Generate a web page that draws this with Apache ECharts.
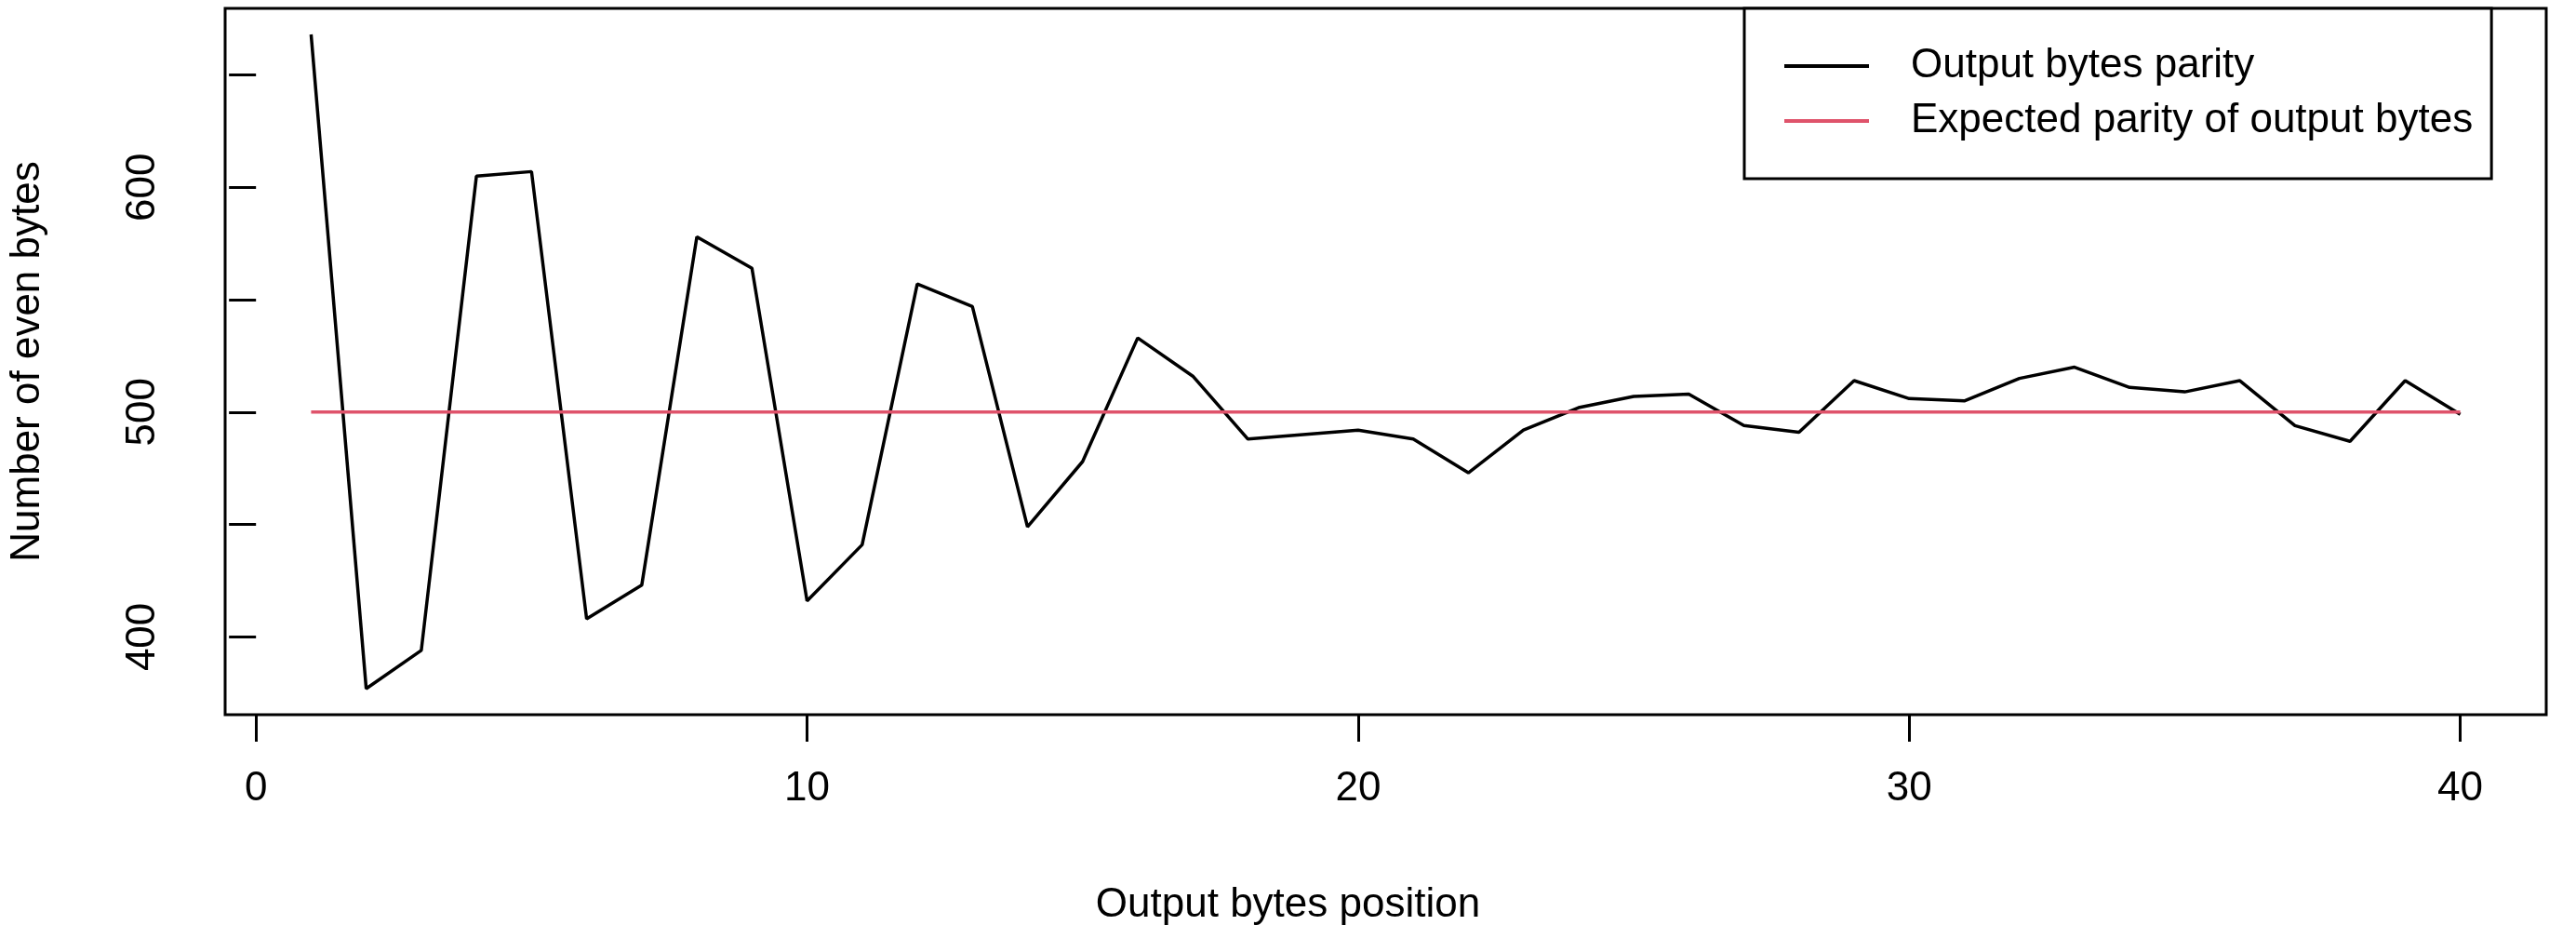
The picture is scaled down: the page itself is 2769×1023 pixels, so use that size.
<!DOCTYPE html>
<html><head><meta charset="utf-8">
<script src="https://cdn.jsdelivr.net/npm/echarts@6/dist/echarts.min.js"></script>
<style>html,body{margin:0;padding:0;background:#fff}#c{width:2769px;height:1023px}</style>
</head><body><div id="c"></div>
<script>
const positions = Array.from({length:40},(_,i)=>i+1);
const parity = [668,377,394,605,607,408,423,578,564,416,441,557,547,449,478,533,516,488,490,492,488,473,492,502,507,508,494,491,514,506,505,515,520,511,509,514,494,487,514,499];
const expected = positions.map(()=>500);
const xTicks = [0,10,20,30,40];
const yTicks = [400,450,500,550,600,650];
const yLabels = [400,500,600];
const F = 'Liberation Sans, Arial, sans-serif';
const chart = echarts.init(document.getElementById('c'));
chart.setOption({
  animation:false,
  backgroundColor:'#fff',
  textStyle:{fontFamily:F},
  grid:{left:235,right:32,top:9,bottom:255,show:true,borderColor:'#000',borderWidth:3,backgroundColor:'transparent'},
  xAxis:{type:'value',min:-0.56,max:41.56,
     axisLine:{show:false},
     axisTick:{show:true,customValues:xTicks,length:29,lineStyle:{color:'#000',width:3}},
     axisLabel:{show:true,customValues:xTicks,margin:58,color:'#000',fontSize:44,fontFamily:F},
     splitLine:{show:false}},
  yAxis:{type:'value',min:365.4,max:679.6,
     name:'Number of even bytes',nameLocation:'middle',nameRotate:90,nameGap:190,
     nameTextStyle:{fontSize:44,color:'#000',fontFamily:F},
     axisLine:{show:false},
     axisTick:{show:true,customValues:yTicks,length:29,lineStyle:{color:'#000',width:3}},
     axisLabel:{show:true,customValues:yLabels,margin:66,rotate:90,color:'#000',fontSize:44,fontFamily:F,align:'center',verticalAlign:'bottom'},
     splitLine:{show:false}},
  title:{text:'Output bytes position',left:'center',top:946,textStyle:{fontSize:44,fontWeight:'normal',color:'#000',fontFamily:F}},
  legend:{left:1875,top:9,orient:'vertical',itemWidth:91,itemHeight:4,itemGap:15,
    padding:[40,20,40,43],borderColor:'#000',borderWidth:3,backgroundColor:'#fff',
    textStyle:{fontSize:44,color:'#000',fontFamily:F,padding:[0,0,0,40]},
    data:[{name:'Output bytes parity',icon:'rect'},{name:'Expected parity of output bytes',icon:'rect'}]},
  series:[
    {name:'Output bytes parity',type:'line',data:positions.map((p,i)=>[p,parity[i]]),
     showSymbol:false,lineStyle:{color:'#000',width:3.5},itemStyle:{color:'#000'}},
    {name:'Expected parity of output bytes',type:'line',data:positions.map((p,i)=>[p,expected[i]]),
     showSymbol:false,lineStyle:{color:'#DF536B',width:3.5},itemStyle:{color:'#DF536B'}}
  ]
});
</script></body></html>
